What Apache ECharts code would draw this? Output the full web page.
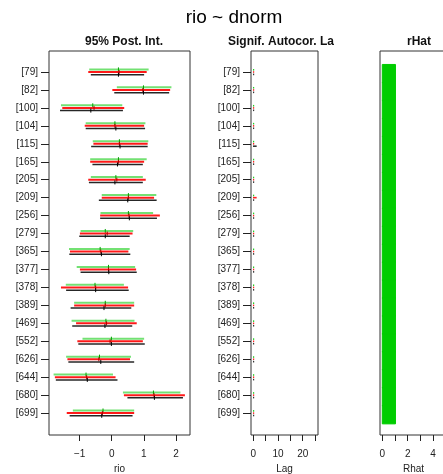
<!DOCTYPE html>
<html>
<head>
<meta charset="utf-8">
<script src="https://cdn.jsdelivr.net/npm/echarts@6/dist/echarts.min.js"></script>
<style>html,body{margin:0;padding:0;background:#fff}#c{width:443px;height:474px}</style>
</head>
<body>
<div id="c"></div>
<script>
var labels = ['[79]','[82]','[100]','[104]','[115]','[165]','[205]','[209]','[256]','[279]','[365]','[377]','[378]','[389]','[469]','[552]','[626]','[644]','[680]','[699]'];

var greenLo  = [-0.70,0.16,-1.58,-0.81,-0.59,-0.67,-0.65,-0.31,-0.35,-0.97,-1.33,-1.09,-1.43,-1.17,-1.25,-0.91,-1.42,-1.81,0.35,-1.21];
var greenMed = [0.21,0.99,-0.59,0.10,0.24,0.21,0.13,0.52,0.52,-0.20,-0.36,-0.10,-0.52,-0.20,-0.18,-0.01,-0.38,-0.80,1.30,-0.27];
var greenHi  = [1.15,1.86,0.33,1.05,1.14,1.09,0.97,1.39,1.29,0.67,0.56,0.73,0.38,0.70,0.71,1.01,0.60,0.04,2.14,0.70];

var redLo  = [-0.73,0.02,-1.54,-0.84,-0.57,-0.67,-0.73,-0.31,-0.36,-0.99,-1.30,-0.99,-1.58,-1.17,-1.11,-1.07,-1.38,-1.77,0.38,-1.40];
var redMed = [0.23,0.97,-0.55,0.10,0.24,0.21,0.16,0.52,0.54,-0.14,-0.34,-0.10,-0.50,-0.20,-0.16,-0.05,-0.40,-0.78,1.32,-0.29];
var redHi  = [1.09,1.82,0.39,1.01,1.12,1.01,1.06,1.32,1.50,0.65,0.52,0.76,0.51,0.70,0.78,0.97,0.57,0.12,2.28,0.70];

var blackLo  = [-0.65,0.08,-1.61,-0.81,-0.64,-0.60,-0.71,-0.40,-0.36,-1.01,-1.32,-0.97,-1.42,-1.28,-1.23,-1.04,-1.35,-1.74,0.49,-1.31];
var blackMed = [0.21,0.99,-0.65,0.13,0.26,0.18,0.10,0.50,0.55,-0.20,-0.32,-0.09,-0.50,-0.24,-0.21,-0.01,-0.34,-0.76,1.33,-0.31];
var blackHi  = [1.01,1.79,0.35,1.04,1.12,0.97,0.97,1.40,1.41,0.56,0.58,0.78,0.53,0.61,0.64,1.03,0.70,0.18,2.22,0.65];

var greenLag = [0,0,0,0,0,0,0,0,0,0,0,0,0,0,0,0,0,0,0,0];
var redLag   = [0,0,0,0,0,0,0,1,0,0,0,0,0,0,0,0,0,0,0,0];
var blackLag = [0,0,0,0,1,0,0,0,0,0,0,0,0,0,0,0,0,0,0,0];

var rHat = [1.04,1.04,1.04,1.04,1.04,1.04,1.04,1.04,1.04,1.04,1.04,1.04,1.04,1.04,1.04,1.04,1.04,1.04,1.04,1.04];

var xTicks1 = [-1,0,1,2];
var xTicks2 = [0,5,10,15,20,25];
var xLabels2 = [0,10,20];
var xTicks3 = [0,1,2,3,4,5];
var xLabels3 = [0,2,4];

var FONT = "'Liberation Sans', Arial, sans-serif";
var rowIdx = labels.map(function(_, i){ return i; });

function fmtNum(v){ return v < 0 ? '\u2212' + Math.abs(v) : String(v); }

function yAxisDef(gi, showLabels){
  return {
    type:'value', gridIndex:gi, inverse:true, min:-1.17, max:20.22,
    splitLine:{show:false}, axisLine:{show:false, onZero:false},
    axisTick:{show:showLabels, length:8, customValues:rowIdx, lineStyle:{color:'#222'}},
    axisLabel:{show:showLabels, customValues:rowIdx, margin:11, fontSize:10, color:'#222', fontFamily:FONT,
      formatter:function(v){ return labels[Math.round(v)] || ''; }}
  };
}
function xAxisDef(gi, min, max, ticks, labs, name){
  return {
    type:'value', gridIndex:gi, min:min, max:max, position:'bottom',
    splitLine:{show:false}, axisLine:{show:false, onZero:false},
    axisTick:{show:true, length:6, customValues:ticks, lineStyle:{color:'#222'}},
    axisLabel:{customValues:labs, margin:14, fontSize:10, color:'#222', fontFamily:FONT, formatter:fmtNum},
    name:name, nameLocation:'middle', nameGap:27,
    nameTextStyle:{fontSize:10, color:'#222', fontFamily:FONT}
  };
}

function intervalSeries(lo, med, hi, color, tickColor, off, width){
  return {
    type:'custom', xAxisIndex:0, yAxisIndex:0,
    data: lo.map(function(v, i){ return [lo[i], med[i], hi[i], i]; }),
    encode:{x:[0,1,2], y:3},
    renderItem:function(params, api){
      var y = api.value(3);
      var p0 = api.coord([api.value(0), y]);
      var p1 = api.coord([api.value(2), y]);
      var pm = api.coord([api.value(1), y]);
      var yy = p0[1] + off;
      return {type:'group', children:[
        {type:'line', shape:{x1:p0[0], y1:yy, x2:p1[0], y2:yy}, style:{stroke:color, lineWidth:width}},
        {type:'line', shape:{x1:pm[0], y1:yy-2, x2:pm[0], y2:yy+2}, style:{stroke:tickColor, lineWidth:1}}
      ]};
    }
  };
}

function lagSeries(lags, color, off){
  return {
    type:'custom', xAxisIndex:1, yAxisIndex:1,
    data: lags.map(function(v, i){ return [v, i]; }),
    encode:{x:0, y:1},
    renderItem:function(params, api){
      var i = api.value(1);
      var p0 = api.coord([0, i]);
      var p1 = api.coord([api.value(0), i]);
      var w = Math.max(p1[0] - p0[0], 0) + 1.2;
      return {type:'rect', shape:{x:p0[0]-0.4, y:p0[1]+off-0.8, width:w, height:1.6}, style:{fill:color}};
    }
  };
}

var rhatSeries = {
  type:'custom', xAxisIndex:2, yAxisIndex:2,
  data: rHat.map(function(v, i){ return [v, i]; }),
  encode:{x:0, y:1},
  renderItem:function(params, api){
    var i = api.value(1);
    var a = api.coord([0, i - 0.42]);
    var b = api.coord([api.value(0), i + 0.6]);
    return {type:'rect', shape:{x:a[0], y:a[1], width:b[0]-a[0], height:b[1]-a[1]},
      style:{fill:'#00cd00', stroke:'#00cd00', lineWidth:1}};
  }
};

function gridDef(left, width){
  return {left:left, width:width, top:51, height:384, show:true, borderColor:'#333', borderWidth:1,
    containLabel:false, outerBoundsMode:'none'};
}

var chart = echarts.init(document.getElementById('c'), null, {renderer:'canvas'});
chart.setOption({
  animation:false,
  backgroundColor:'#fff',
  title:[
    {text:'rio ~ dnorm', left:229, top:3, textAlign:'center', textStyle:{fontSize:19, fontWeight:'normal', color:'#000', fontFamily:FONT}},
    {text:'95% Post. Int.', left:119, top:31, textAlign:'center', textStyle:{fontSize:12, fontWeight:'bold', color:'#111', fontFamily:FONT}},
    {text:'Signif. Autocor. La', left:223, top:31, textStyle:{fontSize:12, fontWeight:'bold', color:'#111', fontFamily:FONT}},
    {text:'rHat', left:414, top:31, textAlign:'center', textStyle:{fontSize:12, fontWeight:'bold', color:'#111', fontFamily:FONT}}
  ],
  grid:[ gridDef(49, 141), gridDef(251, 67), gridDef(380, 67) ],
  xAxis:[
    xAxisDef(0, -1.953, 2.439, xTicks1, xTicks1, 'rio'),
    xAxisDef(1, -0.97, 26.2, xTicks2, xLabels2, 'Lag'),
    xAxisDef(2, -0.18, 5.1, xTicks3, xLabels3, 'Rhat')
  ],
  yAxis:[ yAxisDef(0, true), yAxisDef(1, true), yAxisDef(2, false) ],
  series:[
    intervalSeries(greenLo, greenMed, greenHi, 'rgba(0,200,0,0.55)', '#00a000', -2.6, 2),
    intervalSeries(redLo, redMed, redHi, 'rgba(255,0,0,0.9)', '#b00000', 0, 2),
    intervalSeries(blackLo, blackMed, blackHi, 'rgba(0,0,0,0.85)', '#000', 2.7, 1.5),
    lagSeries(greenLag, '#22cc22', -2.2),
    lagSeries(redLag, '#ff2020', 0),
    lagSeries(blackLag, '#333', 2.4),
    rhatSeries
  ]
});
</script>
</body>
</html>
